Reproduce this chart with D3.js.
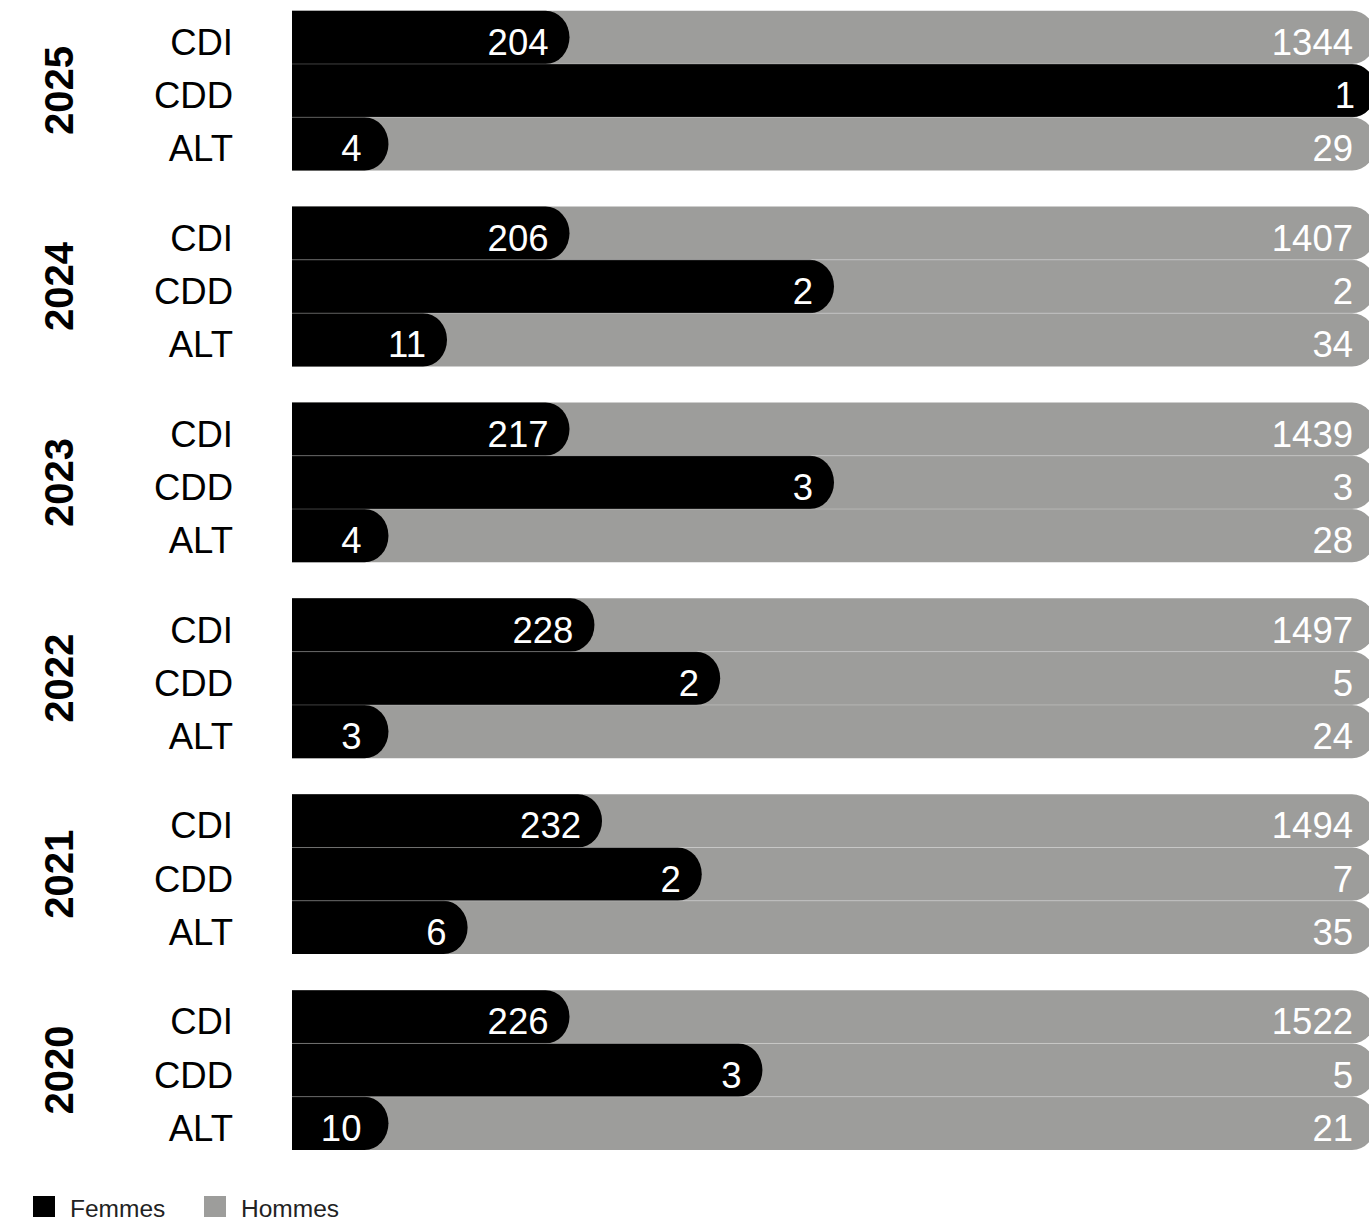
<!DOCTYPE html>
<html>
<head>
<meta charset="utf-8">
<script src="https://cdn.jsdelivr.net/npm/d3@7"></script>
<style>
  html, body { margin: 0; padding: 0; background: #fff; }
  svg { display: block; }
  text { font-family: "Liberation Sans", Arial, Helvetica, sans-serif; }
</style>
</head>
<body>
<svg id="chart" width="1369" height="1223"></svg>
<script>
// ---- Data ----
const years = ["2025", "2024", "2023", "2022", "2021", "2020"];
const contrats = ["CDI", "CDD", "ALT"];
const series = ["Femmes", "Hommes"];

// Headcounts shown as labels
const femmesCDI = [204, 206, 217, 228, 232, 226];
const femmesCDD = [1, 2, 3, 2, 2, 3];
const femmesALT = [4, 11, 4, 3, 6, 10];
const hommesCDI = [1344, 1407, 1439, 1497, 1494, 1522];
const hommesCDD = [0, 2, 3, 5, 7, 5];
const hommesALT = [29, 34, 28, 24, 35, 21];

// Length of the black (Femmes) segment as drawn, in % of the full bar
const partFemmesCDI = [25.6, 25.6, 25.6, 27.9, 28.6, 25.6];
const partFemmesCDD = [100, 50, 50, 39.5, 37.8, 43.4];
const partFemmesALT = [8.9, 14.3, 8.9, 8.9, 16.2, 8.9];

const colors = { Femmes: "#000000", Hommes: "#9d9d9b" };

// ---- Build rows ----
const femmes = { CDI: femmesCDI, CDD: femmesCDD, ALT: femmesALT };
const hommes = { CDI: hommesCDI, CDD: hommesCDD, ALT: hommesALT };
const parts = { CDI: partFemmesCDI, CDD: partFemmesCDD, ALT: partFemmesALT };
const rows = [];
years.forEach((y, i) => {
  contrats.forEach(c => {
    rows.push({ year: y, contrat: c, f: femmes[c][i], h: hommes[c][i], part: parts[c][i] });
  });
});

// ---- Scales ----
const svg = d3.select("#chart");
const x = d3.scaleLinear().domain([0, 100]).range([292, 1376]);
const yYear = d3.scaleBand().domain(years).range([10.7, 1150]).paddingInner(0.184).paddingOuter(0);
const yRow = d3.scaleBand().domain(contrats).range([0, yYear.bandwidth()]).padding(0);
const rh = yRow.bandwidth();
const rx = 24;

function roundedRight(x0, x1, y0, h) {
  const ry = h / 2;
  const r = Math.min(rx, x1 - x0);
  return `M${x0},${y0}H${x1 - r}A${r},${ry} 0 0 1 ${x1},${y0 + ry}A${r},${ry} 0 0 1 ${x1 - r},${y0 + h}H${x0}Z`;
}

const g = svg.append("g");

const rowG = g.selectAll("g.row").data(rows).join("g")
  .attr("class", "row")
  .attr("transform", d => `translate(0,${yYear(d.year) + yRow(d.contrat)})`);

// Hommes (full bar, stacked to 100)
rowG.append("path")
  .attr("d", d => roundedRight(x(0), x(100), 0, rh))
  .attr("fill", colors.Hommes);

// Femmes
rowG.append("path")
  .attr("d", d => roundedRight(x(0), x(d.part), 0, rh))
  .attr("fill", colors.Femmes);

// separators between rows
years.forEach(y => {
  contrats.slice(1).forEach(c => {
    g.append("line")
      .attr("x1", x(0)).attr("x2", x(100))
      .attr("y1", yYear(y) + yRow(c)).attr("y2", yYear(y) + yRow(c))
      .attr("stroke", "#fff").attr("stroke-opacity", 0.25).attr("stroke-width", 1);
  });
});

// Value labels
const labelDy = rh / 2 + 17.5;
rowG.filter(d => d.f > 0).append("text")
  .attr("x", d => x(d.part) - (d.part < 10 ? 27 : 21))
  .attr("y", labelDy)
  .attr("text-anchor", "end")
  .attr("fill", "#fff")
  .attr("font-size", 36.5)
  .text(d => d.f);

rowG.filter(d => d.h > 0).append("text")
  .attr("x", x(100) - 23)
  .attr("y", labelDy)
  .attr("text-anchor", "end")
  .attr("fill", "#fff")
  .attr("font-size", 36.5)
  .text(d => d.h);

// Category labels
rowG.append("text")
  .attr("x", 233)
  .attr("y", labelDy)
  .attr("text-anchor", "end")
  .attr("fill", "#000")
  .attr("font-size", 36.5)
  .text(d => d.contrat);

// Year labels
svg.selectAll("text.year").data(years).join("text")
  .attr("class", "year")
  .attr("transform", d => `translate(73,${yYear(d) + yYear.bandwidth() / 2}) rotate(-90)`)
  .attr("text-anchor", "middle")
  .attr("font-weight", "bold")
  .attr("font-size", 40)
  .attr("fill", "#000")
  .text(d => d);

// Legend
const legend = svg.append("g");
const legendX = [33, 204];
series.forEach((s, i) => {
  legend.append("rect")
    .attr("x", legendX[i]).attr("y", 1196)
    .attr("width", 22).attr("height", 21)
    .attr("fill", colors[s]);
  legend.append("text")
    .attr("x", legendX[i] + 37).attr("y", 1217)
    .attr("font-size", 24.5)
    .attr("fill", "#222")
    .text(s);
});
</script>
</body>
</html>
